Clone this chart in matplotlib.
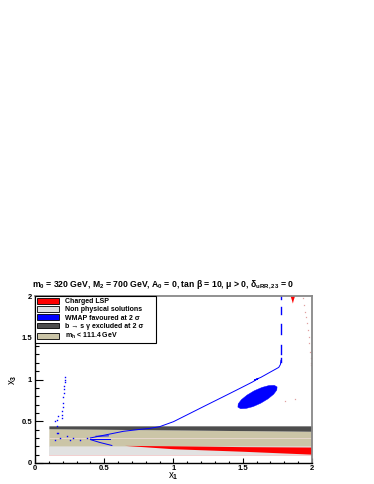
import matplotlib
matplotlib.use('Agg')
import matplotlib.pyplot as plt
from matplotlib.patches import Patch
from matplotlib.ticker import MultipleLocator

plt.rcParams['font.family'] = ['Liberation Sans', 'DejaVu Sans']
plt.rcParams['font.weight'] = 'bold'
plt.rcParams['mathtext.fontset'] = 'custom'
plt.rcParams['mathtext.rm'] = 'Liberation Sans:bold'
plt.rcParams['mathtext.it'] = 'Liberation Sans:bold'
plt.rcParams['mathtext.bf'] = 'Liberation Sans:bold'

# excluded bands (x range, lower / upper y edges)
band_x = [0.1, 2.0]
nonphys_lo = [0.10, 0.10]
nonphys_hi = [0.205, 0.205]
mh_lo = [0.205, 0.205]
mh_hi = [0.41, 0.38]
bsg_lo = [0.41, 0.38]
bsg_hi = [0.445, 0.445]
stripe_lo = [0.285, 0.285]
stripe_hi = [0.30, 0.30]

# charged LSP wedge at the bottom and the small drop at the top
lsp_x = [0.65, 1.0, 1.5, 2.0, 2.0, 1.5, 1.0, 0.65]
lsp_y = [0.205, 0.20, 0.19, 0.185, 0.10, 0.135, 0.165, 0.205]
lsp_top_x = [1.845, 1.878, 1.868, 1.862, 1.855]
lsp_top_y = [2.0, 2.0, 1.95, 1.91, 1.95]

# WMAP region (blob outline)
wmap_x = [1.748, 1.746, 1.723, 1.682, 1.630, 1.574, 1.523, 1.485,
          1.465, 1.467, 1.490, 1.531, 1.583, 1.639, 1.690, 1.728]
wmap_y = [0.911, 0.874, 0.823, 0.768, 0.716, 0.675, 0.653, 0.650,
          0.669, 0.708, 0.758, 0.813, 0.865, 0.905, 0.928, 0.930]

# WMAP thin strip
strip_x = [0.40, 0.52, 0.64, 0.76, 0.83, 0.90, 1.00, 1.12, 1.24, 1.36, 1.48,
           1.57, 1.61, 1.585, 1.63, 1.70, 1.76, 1.772, 1.776]
strip_y = [0.30, 0.34, 0.38, 0.403, 0.415, 0.435, 0.495, 0.595, 0.695, 0.794, 0.894,
           0.97, 1.01, 0.995, 1.025, 1.09, 1.145, 1.18, 1.23]
low_x = [0.40, 0.47, 0.555]
low_y = [0.28, 0.245, 0.21]
mid_x = [0.40, 0.54]
mid_y = [0.29, 0.29]
short_x = [0.44, 0.53]
short_y = [0.32, 0.325]
vert_x = 1.777
vert_segs = [(1.21, 1.26), (1.31, 1.41), (1.55, 1.67), (1.79, 1.87), (1.97, 2.0)]
dots_x = [0.217, 0.215, 0.214, 0.211, 0.209, 0.206, 0.204, 0.202, 0.199, 0.197, 0.195, 0.193,
          0.168, 0.161, 0.156, 0.144, 0.157, 0.168, 0.144, 0.18, 0.229, 0.253, 0.277, 0.325, 0.373]
dots_y = [1.034, 1.0, 0.966, 0.92, 0.882, 0.84, 0.794, 0.715, 0.67, 0.627, 0.58, 0.535,
          0.563, 0.515, 0.355, 0.50, 0.44, 0.36, 0.28, 0.30, 0.32, 0.28, 0.30, 0.28, 0.30]

# faint points on the right
pink_x = [1.933, 1.942, 1.949, 1.957, 1.962, 1.969, 1.976, 1.980, 1.986, 1.991, 1.993, 1.995, 1.805, 1.877]
pink_y = [1.972, 1.892, 1.812, 1.752, 1.673, 1.593, 1.512, 1.433, 1.332, 1.253, 1.20, 1.17, 0.746, 0.763]

labels = ["Charged LSP", "Non physical solutions", "WMAP favoured at 2 \u03c3",
          "b \u2192 s \u03b3 excluded at 2 \u03c3", r"m$_h$ < 111.4 GeV"]
c_red, c_gray, c_blue, c_dark, c_tan = '#ff0000', '#e2e2e2', '#0000ff', '#4d4d4d', '#cbc5a7'

fig = plt.figure(figsize=(3.74, 4.84), dpi=100)
ax = fig.add_axes([0.0936, 0.0434, 0.7406, 0.345])

ax.fill_between(band_x, nonphys_lo, nonphys_hi, color=c_gray, lw=0)
ax.plot(band_x, nonphys_lo, color='#f0c8c8', lw=0.6)
ax.fill_between(band_x, mh_lo, mh_hi, color=c_tan, lw=0)
ax.fill_between(band_x, stripe_lo, stripe_hi, color='#e6d6cc', lw=0)
ax.fill_between(band_x, bsg_lo, bsg_hi, color=c_dark, lw=0)
ax.fill(lsp_x, lsp_y, color=c_red, lw=0)
ax.fill(lsp_top_x, lsp_top_y, color=c_red, lw=0)
ax.fill(wmap_x, wmap_y, color=c_blue, lw=0.3, ec=c_blue)

for xs, ys in [(strip_x, strip_y), (low_x, low_y), (mid_x, mid_y), (short_x, short_y)]:
    ax.plot(xs, ys, color=c_blue, lw=0.7)
for y0, y1 in vert_segs:
    ax.plot([vert_x, vert_x], [y0, y1], color=c_blue, lw=1.0)
ax.plot(dots_x, dots_y, ls='none', marker='s', ms=1.0, mew=0, color=c_blue)
ax.plot(pink_x, pink_y, ls='none', marker='s', ms=0.9, mew=0, color='#e0a0a0')

ax.set_xlim(0, 2)
ax.set_ylim(0, 2)
ax.xaxis.set_minor_locator(MultipleLocator(0.1))
ax.yaxis.set_minor_locator(MultipleLocator(0.1))
ax.set_xticks([0, 0.5, 1, 1.5, 2], ['0', '0.5', '1', '1.5', '2'])
ax.set_yticks([0, 0.5, 1, 1.5, 2], ['0', '0.5', '1', '1.5', '2'])
ax.tick_params(axis='x', which='major', direction='in', length=3.4, width=0.8, labelsize=5.5, pad=1.5)
ax.tick_params(axis='x', which='minor', direction='in', length=1.5, width=0.8)
ax.tick_params(axis='y', which='major', direction='in', length=5.4, width=0.8, labelsize=5.5, pad=2)
ax.tick_params(axis='y', which='minor', direction='in', length=2.9, width=0.8)
for s in ['left', 'bottom']:
    ax.spines[s].set_linewidth(1.0)
for s in ['right', 'top']:
    ax.spines[s].set_color('#888888')
    ax.spines[s].set_linewidth(1.3)

ax.set_xlabel(r"x$_1$", fontsize=7, labelpad=-1)
ax.set_ylabel(r"x$_3$", fontsize=7, labelpad=2)

fig.text(0.436, 0.411,
         r"m$_0$ = 320 GeV, M$_2$ = 700 GeV, A$_0$ = 0, tan $\beta$ = 10, $\mu$ > 0, $\delta_{uRR,23}$ = 0",
         ha='center', va='center', fontsize=6.2)

handles = [Patch(facecolor=c, edgecolor='black', lw=0.6) for c in [c_red, c_gray, c_blue, c_dark, c_tan]]
leg = ax.legend(handles, labels, loc='upper left', bbox_to_anchor=(0.0, 0.755, 0.437, 0.245),
                mode='expand', borderaxespad=0, fontsize=5, fancybox=False, framealpha=1,
                edgecolor='black', handlelength=3.2, handleheight=0.9, handletextpad=0.8,
                labelspacing=0.15, borderpad=0.25)
leg.get_frame().set_linewidth(0.8)

fig.savefig('out.png', dpi=100)
